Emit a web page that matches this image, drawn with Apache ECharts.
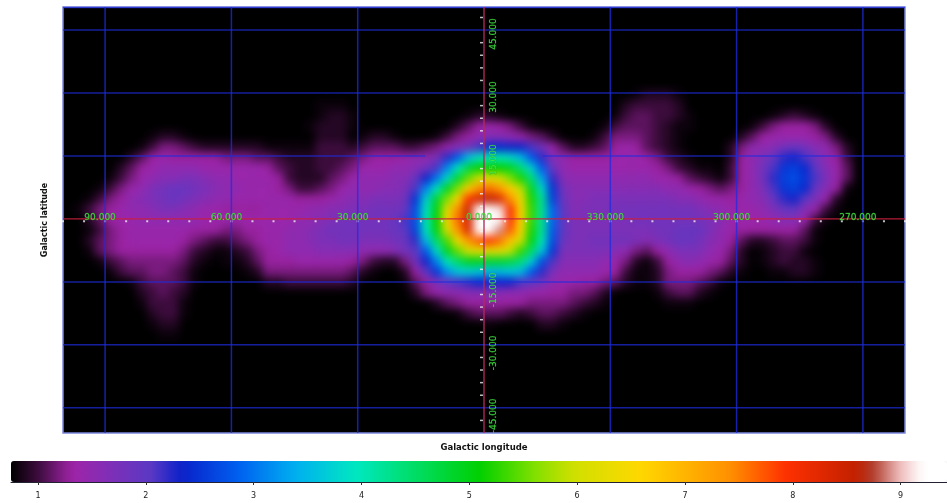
<!DOCTYPE html>
<html><head><meta charset="utf-8">
<style>
html,body{margin:0;padding:0;background:#fff}
#chart{width:947px;height:503px}
/* the intensity layer alone is softened, as in the reference image */
#chart canvas[data-zr-dom-id="zr_1"]{filter:blur(4px)}
</style>
<script src="https://cdn.jsdelivr.net/npm/echarts@6/dist/echarts.min.js"></script>
</head><body><div id="chart"></div>
<script>
// Intensity, in tenths of a colour-bar unit. 2.5 degree cells.
// Each list is one row of cells, from the left edge (lon +100) to the right; missing tail = no emission.
const row08=[0,0,0,0,0,0,0,0,0,0, 0,0,0,0,0,0,0,0,0,0, 0,0,0,0,0,0,0,0,0,0, 0,0,0, 0,0,0,0,0,0,0,0,0,0,0,0,0,0,0, 0,0,0,0,0,0,8,9,9,9,8];
const row09=[0,0,0,0,0,0,0,0,0,0, 0,0,0,0,0,0,0,0,0,0, 0,0,0,0,8,8,8,0,0,0, 0,0,0, 0,0,0,0,0,0,0,0,0,0,0,0,0,0,0, 0,0,0,0,0,9,10,10,10,10,9,0];
const row10=[0,0,0,0,0,0,0,0,0,0, 0,0,0,0,0,0,0,0,0,0, 0,0,0,0,8,9,9,8,0,0, 0,0,0, 0,0,0,0,0,8,9,9,8,0,0,0,0,0,0, 0,0,0,0,8,10,11,11,10,10,9,8, 0,0,0,0,0,0,0,8,9,10, 9,8];
const row11=[0,0,0,0,0,0,0,0,0,0, 0,0,0,0,0,0,0,0,0,0, 0,0,0,8,9,9,9,8,0,0, 0,0,0, 0,0,0,0,9,11,13,14,13,12,10,8,0,0,0, 0,0,0,8,10,11,11,11,10,9,8,8, 0,0,0,0,0,8,10,12,13,13, 13,12,9];
const row12=[0,0,0,0,0,0,0,0,8,9, 9,8,0,0,0,0,0,0,0,0, 0,0,0,0,9,9,9,0,8,9, 9,8,0, 0,0,8,10,12,13,15,16,16,15,14,12,11,9,0, 0,0,8,10,12,12,12,11,10,9,8,0, 0,0,0,0,9,11,13,14,14,14, 14,13,12,9];
const row13=[0,0,0,0,0,0,0,8,10,12, 12,11,10,9,9,9,9,9,9,8, 8,8,8,8,10,10,10,9,10,11, 11,11,10, 10,11,12,14,16,18,21,24,24,23,23,21,18,14,11, 9,9,10,11,13,14,13,11,10,9,8,0, 0,0,0,9,12,15,15,16,18,19, 18,16,15,12,9];
const row14=[0,0,0,0,0,0,9,11,13,14, 13,13,13,13,13,12,12,12,11,11, 10,9,9,9,10,10,10,11,12,13, 13,13,14, 15,15,17,22,28,35,39,40,40,38,35,28,22,16,15, 13,13,13,13,14,14,14,13,12,10,9,8, 0,0,0,9,13,15,17,19,22,23, 21,18,15,13,10];
const row15=[0,0,0,0,0,9,11,13,14,15, 15,15,15,14,14,14,14,14,14,13, 11,10,9,9,10,10,11,12,14,14, 14,15,15, 16,18,21,31,39,47,51,51,51,49,44,37,28,19,15, 14,14,14,14,14,14,14,14,13,12,10,9, 8,8,0,10,13,15,18,21,25,26, 24,20,16,14,11];
const row16=[0,0,0,0,8,10,12,14,15,16, 16,17,17,16,15,15,14,14,14,14, 13,10,9,9,9,11,12,14,15,15, 15,16,16, 19,23,30,38,48,55,60,62,61,56,52,44,33,22,16, 15,15,15,15,15,15,15,15,14,14,13,11, 10,9,8,10,13,15,18,22,26,27, 25,21,17,14,11];
const row17=[0,0,0,8,10,12,14,15,17,18, 19,19,18,17,16,15,15,14,14,14, 13,12,10,10,11,12,14,15,15,15, 16,16,17, 21,31,39,49,56,67,74,76,73,67,59,49,38,25,18, 16,16,16,16,16,16,16,16,16,15,15,14, 13,12,11,12,13,15,17,21,25,26, 24,19,16,13,8];
const row18=[0,0,8,10,12,13,15,16,17,18, 19,18,17,16,15,15,14,14,14,14, 14,14,13,13,13,14,15,16,16,17, 17,17,18, 25,37,48,56,65,79,84,86,83,74,64,52,42,26,19, 16,16,17,17,17,17,17,17,17,17,16,16, 15,14,14,13,14,15,16,19,22,23, 20,17,14,9];
const row19=[0,8,10,12,13,14,15,15,16,17, 17,16,15,14,14,13,13,13,13,14, 14,14,14,15,15,16,16,17,17,18, 18,18,19, 27,39,50,62,74,85,96,97,91,80,66,53,42,29,20, 16,17,17,17,18,18,18,18,18,18,18,18, 17,16,15,14,14,14,15,17,19,20, 16,14,10,8];
const row20=[0,0,9,11,13,14,14,15,15,15, 15,15,15,14,14,14,14,14,14,14, 14,14,15,15,16,17,18,18,18,18, 18,19,21, 27,40,51,64,76,84,97,98,92,80,66,53,42,29,20, 17,17,17,17,17,17,18,18,18,18,18,18, 18,17,16,14,14,14,14,15,16,16, 14,10,8];
const row21=[0,0,8,10,12,13,14,14,14,14, 14,14,13,13,13,12,12,13,13,14, 14,15,15,16,17,18,18,18,18,18, 18,19,20, 26,39,50,61,73,83,94,95,89,77,65,52,42,28,20, 17,17,17,17,17,17,17,17,18,18,19,19, 19,17,15,14,13,13,13,13,13,13, 11,8];
const row22=[0,0,9,11,12,13,14,14,14,14, 14,13,12,11,10,10,11,12,13,14, 14,15,15,16,17,17,18,18,17,17, 17,18,19, 22,35,45,54,64,73,77,79,76,68,60,50,40,27,19, 17,17,18,18,18,18,17,16,17,18,19,19, 18,16,15,13,11,9,9,10,11,11, 10,8];
const row23=[0,0,8,11,12,13,13,13,13,13, 13,12,10,9,8,8,9,10,12,13, 14,15,15,15,16,16,16,16,15,15, 15,16,18, 20,28,38,49,55,60,62,62,62,59,53,45,36,25,17, 17,17,17,17,16,15,12,11,13,15,17,17, 17,15,14,12,9,0,8,9,10,10, 8];
const row24=[0,0,0,8,10,11,12,12,12,12, 12,11,9,8,0,8,8,9,11,13, 13,13,14,14,14,14,14,13,12,10, 9,9,12, 18,23,31,40,45,49,49,48,48,47,44,37,27,21,16, 16,16,16,15,14,12,9,8,10,13,15,16, 15,14,13,11,9,0,8,9,10,9, 9,8];
const row25=[0,0,0,0,8,10,11,11,12,12, 11,10,8,0,0,0,0,8,9,12, 12,12,12,12,12,12,12,11,9,8, 0,0,9, 13,20,25,32,36,37,36,35,35,36,35,28,22,17,15, 15,15,15,14,13,10,8,8,9,12,13,13, 13,12,11,9,8,0,0,8,8,9, 9,8];
const row26=[0,0,0,0,0,0,8,10,11,11, 11,10,8,0,0,0,0,0,0,9, 9,10,10,10,10,10,10,9,0,0, 0,0,8, 11,13,17,19,21,22,24,23,23,23,21,20,18,15,14, 14,13,13,12,11,9,8,8,9,12,12,12, 11,10,8];
const row27=[0,0,0,0,0,0,0,9,10,11, 10,9,0,0,0,0,0,0,0,0, 0,0,0,0,0,0,0,0,0,0, 0,0,0, 9,12,14,15,15,16,16,16,16,15,15,14,14,13,13, 12,12,11,9,0,0,0,0,8,10,11,11, 9,8];
const row28=[0,0,0,0,0,0,0,8,10,10, 10,8,0,0,0,0,0,0,0,0, 0,0,0,0,0,0,0,0,0,0, 0,0,0, 0,0,9,11,12,13,13,13,13,13,13,12,12,12,12, 11,10,9,8,0,0,0,0,0,8,8,8];
const row29=[0,0,0,0,0,0,0,0,9,10, 10,8,0,0,0,0,0,0,0,0, 0,0,0,0,0,0,0,0,0,0, 0,0,0, 0,0,0,0,8,10,11,11,11,10,9,10,11,11,10, 9,8];
const row30=[0,0,0,0,0,0,0,0,8,9, 9,0,0,0,0,0,0,0,0,0, 0,0,0,0,0,0,0,0,0,0, 0,0,0, 0,0,0,0,0,0,0,8,0,0,0,0,9,9,8];
const row31=[0,0,0,0,0,0,0,0,0,8, 8];
const intensityRows=[row08,row09,row10,row11,row12,row13,row14,row15,row16,row17,row18,row19,row20,row21,row22,row23,row24,row25,row26,row27,row28,row29,row30,row31];
const firstRowIndex=8, columnCount=80, rowCount=41;

// Coordinate grid
const lonGridLines=[90,60,30,-30,-60,-90];
const latGridSegments=[[50.4,100,-100],[45,100,-100],[30,100,-100],[15,100,14],[15,-14,-100],[-15,100,-100],[-30,100,-100],[-45,100,-100]];
const lonTicks=[100,95,90,85,80,75,70,65,60,55,50,45,40,35,30,25,20,15,10,5,0,-5,-10,-15,-20,-25,-30,-35,-40,-45,-50,-55,-60,-65,-70,-75,-80,-85,-90,-95,-100];
const latTicks=[48,42,39,36,33,27,24,21,18,12,9,6,3,-3,-6,-9,-12,-18,-21,-24,-27,-33,-36,-39,-42,-48];
const lonLabelAt=[90,60,30,0,-30,-60,-90];
const lonLabels=['90.000','60.000','30.000','0.000','330.000','300.000','270.000'];
const latLabelAt=[45,30,15,-15,-30,-45];
const latLabels=['45.000','30.000','15.000','-15.000','-30.000','-45.000'];
const barTicks=[1,2,3,4,5,6,7,8,9];
const barMin=0.75, barMax=9.43;

// Colour bar stops: value, colour
const stopValues=[0.75,1.0,1.32,1.7,2.05,2.33,2.86,3.39,3.95,5.1,5.6,5.97,6.58,7.42,7.93,8.6,8.75,9.0,9.2,9.43];
const stopColors=['#000000','#3c0c3c','#a024a8','#7c30b8','#5a38c4','#0a20c8','#0060f0','#00b0f0','#00e8c0','#00d000','#80e000','#d0e000','#ffd800','#ff9000','#ff3000','#c02000','#b04030','#f0c0c0','#ffffff','#ffffff'];

function hex(c){return [1,3,5].map(i=>parseInt(c.substr(i,2),16));}
function colorAt(v){
  let k=0; while(k<stopValues.length-2&&v>stopValues[k+1])k++;
  const t=(v-stopValues[k])/(stopValues[k+1]-stopValues[k]);
  const a=hex(stopColors[k]),b=hex(stopColors[k+1]);
  return 'rgb('+a.map((x,i)=>Math.round(x+(b[i]-x)*t)).join(',')+')';
}
const ramp=[];for(let i=0;i<=174;i++)ramp.push(colorAt(barMin+(barMax-barMin)*i/174));

const cells=[];
intensityRows.forEach((r,i)=>r.forEach((v,j)=>{if(v>0)cells.push([j,i+firstRowIndex,v/10]);}));

const font='"DejaVu Sans"';
const hidden={show:false};
function segLine(data,color,width,opacity){
  return {type:'line',xAxisIndex:1,yAxisIndex:1,zlevel:2,data:data,symbol:'none',silent:true,animation:false,
    lineStyle:{color:color,width:width,opacity:opacity}};
}
const series=[{type:'heatmap',xAxisIndex:0,yAxisIndex:0,zlevel:1,data:cells,silent:true,progressive:0,
  itemStyle:{borderWidth:0},emphasis:{disabled:true}}];
lonGridLines.forEach(l=>series.push(segLine([[l,-51],[l,50.5]],'#1e2ce0',1.5,.75)));
latGridSegments.forEach(s=>series.push(segLine([[s[1],s[0]],[s[2],s[0]]],'#1e2ce0',1.5,.7)));
series.push(segLine([[100,0],[-100,0]],'#c8203c',1.3,.9));
series.push(segLine([[0,-51],[0,50.5]],'#b4285c',1.6,.85));
series.push({type:'scatter',xAxisIndex:1,yAxisIndex:1,zlevel:2,silent:true,symbol:'rect',symbolSize:[2,2],
  itemStyle:{color:'#f0f0f0'},data:lonTicks.map(l=>[l,-0.55])});
series.push({type:'scatter',xAxisIndex:1,yAxisIndex:1,zlevel:2,silent:true,symbol:'rect',symbolSize:[3,1.5],
  itemStyle:{color:'#f0f0f0'},data:latTicks.map(l=>[0.6,l])});
const lblBase={show:true,position:'inside',color:'#44f044',fontFamily:font,fontSize:9,textBorderColor:'#2aa02a',textBorderWidth:0.4};
series.push({type:'scatter',xAxisIndex:1,yAxisIndex:1,zlevel:3,silent:true,symbolSize:1,itemStyle:{color:'transparent'},
  data:lonLabelAt.map((l,i)=>({value:[l,0],label:Object.assign({},lblBase,{formatter:lonLabels[i],offset:[-5,-1]})}))});
series.push({type:'scatter',xAxisIndex:1,yAxisIndex:1,zlevel:3,silent:true,symbolSize:1,itemStyle:{color:'transparent'},
  data:latLabelAt.map((l,i)=>({value:[0,l],label:Object.assign({},lblBase,{formatter:latLabels[i],rotate:90,offset:[latLabels[i].length>6?-8:-4,10]})}))});

const chart=echarts.init(document.getElementById('chart'),null,{renderer:'canvas'});
chart.setOption({
  animation:false,backgroundColor:'#fff',
  grid:[
    {left:63,top:7,width:842,height:426,show:true,backgroundColor:'#000',borderColor:'#7b86dc',borderWidth:1.5,outerBoundsMode:'none',containLabel:false},
    {left:11,top:461,width:936,height:21,show:false,outerBoundsMode:'none',containLabel:false}
  ],
  xAxis:[
    {type:'category',gridIndex:0,show:false,position:'top',data:Array.from({length:columnCount},(_, j)=>j)},
    {type:'value',gridIndex:0,position:'bottom',min:-100,max:100,inverse:true,axisLine:hidden,axisTick:hidden,axisLabel:hidden,splitLine:hidden,
      name:'Galactic longitude',nameLocation:'middle',nameGap:10,nameTextStyle:{fontFamily:font,fontSize:8.5,fontWeight:'bold',color:'#111'}},
    {type:'value',gridIndex:1,position:'bottom',min:barMin,max:barMax,splitLine:hidden,
      axisLine:{show:true,onZero:false,lineStyle:{color:'#223',width:1}},
      axisTick:{show:true,length:3,lineStyle:{color:'#333'},customValues:barTicks},
      axisLabel:{show:true,customValues:barTicks,margin:10,fontFamily:font,fontSize:8,color:'#222',formatter:v=>String(v)}}
  ],
  yAxis:[
    {type:'category',gridIndex:0,show:false,position:'right',inverse:true,data:Array.from({length:rowCount},(_, i)=>i)},
    {type:'value',gridIndex:0,position:'left',min:-51,max:50.5,axisLine:hidden,axisTick:hidden,axisLabel:hidden,splitLine:hidden,
      name:'Galactic latitude',nameLocation:'middle',nameGap:14,nameTextStyle:{fontFamily:font,fontSize:8,fontWeight:'bold',color:'#111'}},
    {type:'value',gridIndex:1,show:false,min:0,max:1}
  ],
  visualMap:{type:'continuous',min:barMin,max:barMax,seriesIndex:0,dimension:2,orient:'horizontal',left:11,top:461,padding:0,
    itemWidth:21,itemHeight:936,calculable:false,hoverLink:false,text:null,inRange:{color:ramp}},
  series:series
});
</script></body></html>
